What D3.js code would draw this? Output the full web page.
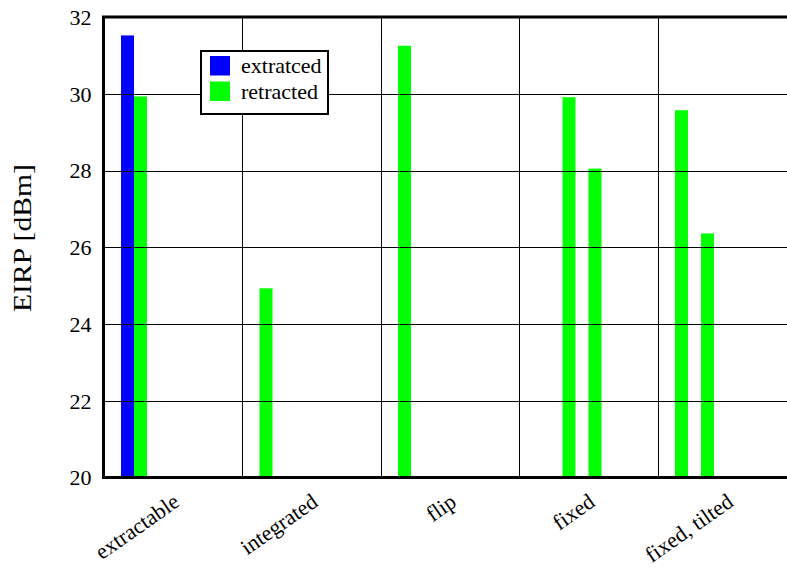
<!DOCTYPE html>
<html>
<head>
<meta charset="utf-8">
<script src="https://cdn.jsdelivr.net/npm/d3@7"></script>
<style>
  body { margin: 0; background: #fff; }
  text { font-family: "Liberation Serif", "Times New Roman", serif; fill: #000; }
</style>
</head>
<body>
<svg id="chart" width="787" height="569"></svg>
<script>
// categories along x, each with a cluster of bar slots (null = empty slot)
let categories = ["extractable", "integrated", "flip", "fixed", "fixed, tilted"];
let seriesNames = ["extratced", "retracted"];
let seriesColors = ["#0000ff", "#00ff00"];

let slotValues = [
  [31.52, 29.93],
  [24.93],
  [31.25],
  [null, null, 29.91, null, 28.05],
  [29.57, null, 26.36]
];
let slotSeries = [
  ["extratced", "retracted"],
  ["retracted"],
  ["retracted"],
  [null, null, "retracted", null, "retracted"],
  ["retracted", null, "retracted"]
];

let yTicks = [20, 22, 24, 26, 28, 30, 32];

let svg = d3.select("#chart");

let plotLeft = 103.5, plotRight = 796, plotTop = 17, plotBottom = 477.5;

let x = d3.scaleBand()
  .domain(categories)
  .range([plotLeft, plotRight])
  .padding(0);

let nSlots = 9;
let xSlot = d3.scaleBand()
  .domain(d3.range(nSlots))
  .range([17.5, 17.5 + nSlots * 13]);

let y = d3.scaleLinear()
  .domain([20, 32])
  .range([plotBottom, plotTop]);

let color = d3.scaleOrdinal().domain(seriesNames).range(seriesColors);

// flatten the clusters into bar records
let bars = [];
categories.forEach(function(c, i){
  slotValues[i].forEach(function(v, s){
    if(v !== null){
      bars.push({cat: c, slot: s, value: v, series: slotSeries[i][s]});
    }
  });
});

svg.append("g")
  .selectAll("rect")
  .data(bars)
  .enter().append("rect")
    .attr("x", function(d){ return x(d.cat) + xSlot(d.slot); })
    .attr("width", xSlot.bandwidth())
    .attr("y", function(d){ return y(d.value); })
    .attr("height", function(d){ return y(20) - y(d.value); })
    .style("fill", function(d){ return color(d.series); });

// grid, drawn over the bars
let grid = svg.append("g").style("stroke", "#000").style("stroke-width", 1);

grid.selectAll("line.h")
  .data(yTicks.slice(1, -1))
  .enter().append("line")
    .attr("class", "h")
    .attr("x1", plotLeft).attr("x2", plotRight)
    .attr("y1", function(d){ return Math.round(y(d)) + 0.5; })
    .attr("y2", function(d){ return Math.round(y(d)) + 0.5; });

grid.selectAll("line.v")
  .data(categories.slice(1))
  .enter().append("line")
    .attr("class", "v")
    .attr("x1", function(d){ return Math.round(x(d)) + 0.5; })
    .attr("x2", function(d){ return Math.round(x(d)) + 0.5; })
    .attr("y1", plotTop).attr("y2", plotBottom);

// y axis labels
let yAxis = d3.axisLeft(y).tickValues(yTicks).tickSize(0).tickPadding(12);
svg.append("g")
  .attr("transform", "translate(" + plotLeft + ",0)")
  .call(yAxis)
  .call(function(g){ g.select(".domain").remove(); })
  .selectAll("text")
    .style("font-family", "'Liberation Serif', serif")
    .style("font-size", "22px")
    .attr("dy", "0.34em");

// x axis labels, rotated
svg.append("g")
  .selectAll("text")
  .data(categories)
  .enter().append("text")
    .attr("transform", function(d){
      return "translate(" + (x(d) + x.bandwidth() / 2 + 8) + "," + 505 + ") rotate(-35)";
    })
    .attr("text-anchor", "end")
    .style("font-size", "22px")
    .text(function(d){ return d; });

// frame: left, bottom, top (right side falls outside the picture)
svg.append("path")
  .attr("d", "M" + plotRight + "," + plotTop + "H" + plotLeft + "V" + plotBottom + "H" + plotRight)
  .style("fill", "none")
  .style("stroke", "#000")
  .style("stroke-width", 3);

svg.append("text")
  .attr("transform", "translate(31,238) rotate(-90)")
  .attr("text-anchor", "middle")
  .attr("textLength", 148)
  .attr("lengthAdjust", "spacingAndGlyphs")
  .style("font-size", "26px")
  .text("EIRP [dBm]");

// legend
let legend = svg.append("g").attr("transform", "translate(201,51)");
legend.append("rect")
  .attr("width", 127).attr("height", 63)
  .style("fill", "#fff").style("stroke", "#000").style("stroke-width", 2);

let items = legend.selectAll("g.item")
  .data(seriesNames)
  .enter().append("g")
    .attr("class", "item")
    .attr("transform", function(d, i){ return "translate(9," + (5 + i * 25.5) + ")"; });
items.append("rect")
  .attr("width", 20).attr("height", 19.5)
  .style("fill", function(d){ return color(d); });
items.append("text")
  .attr("x", 31).attr("y", 17)
  .style("font-size", "22px")
  .text(function(d){ return d; });
</script>
</body>
</html>
